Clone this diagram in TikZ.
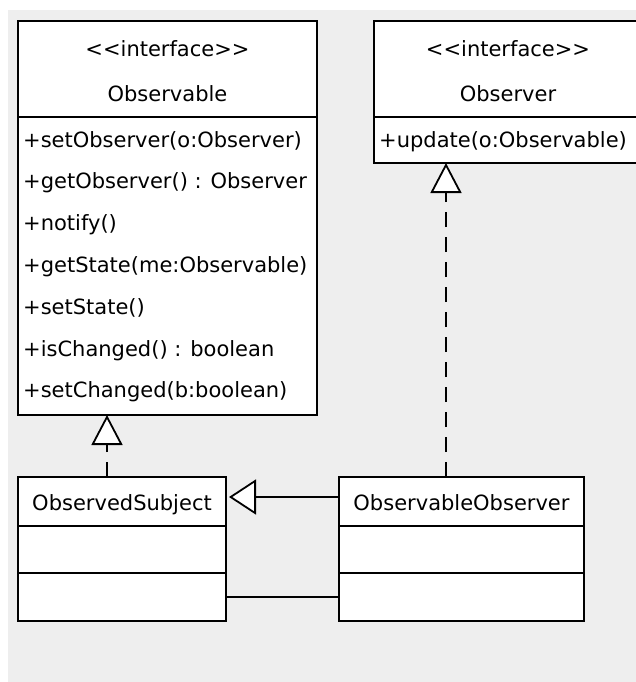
\documentclass[tikz,border=0pt]{standalone}
\usepackage{fontspec}
\setmainfont{DejaVu Sans}
\usetikzlibrary{arrows.meta}
\definecolor{canvas}{RGB}{238,238,238}

\begin{document}
\begin{tikzpicture}[x=1pt, y=-1pt]
\tikzstyle{compartment}=[draw, line width=1.8pt, fill=white, rectangle, anchor=north west, inner sep=0pt, outer sep=0pt]
\tikzstyle{classtext}=[font=\fontsize{21}{25}\selectfont, inner sep=0pt, anchor=base]
\tikzstyle{member}=[classtext, anchor=base west]
\tikzstyle{realize}=[draw, line width=1.8pt, dash pattern=on 15pt off 10pt, -{Triangle[length=30pt, width=31pt, fill=white]}]
\tikzstyle{inherit}=[draw, line width=1.8pt, shorten >=3pt, -{Triangle[length=27pt, width=35pt, fill=white]}]
\tikzstyle{assoc}=[draw, line width=1.8pt]

% Background
\useasboundingbox (0,0) rectangle (636,682);
\clip (0,0) rectangle (636,682);
\fill[canvas] (8,10) rectangle (636,682);

% Define interfaces
\node[compartment, minimum width=299pt, minimum height=96pt] (observable) at (18,21) {};
\node[compartment, minimum width=299pt, minimum height=298pt] (observableops) at (observable.south west) {};
\node[classtext] (observablestereo) at ([yshift=-36pt]observable.north) {<{}<interface>{}>};
\node[classtext] (observablename) at ([yshift=-81pt]observable.north) {Observable};
\foreach \m [count=\i from 0] in {+setObserver(o:Observer), +getObserver() : Observer, +notify(), +getState(me:Observable), +setState(), +isChanged() : boolean, +setChanged(b:boolean)}
  \node[member] (op\i) at ([xshift=5pt, yshift={-30pt-41.8pt*\i}]observableops.north west) {\m};

\node[compartment, minimum width=268pt, minimum height=96pt] (observer) at (374,21) {};
\node[compartment, minimum width=268pt, minimum height=46pt] (observerops) at (observer.south west) {};
\node[classtext] (observerstereo) at ([yshift=-36pt]observer.north) {<{}<interface>{}>};
\node[classtext] (observername) at ([yshift=-81pt]observer.north) {Observer};
\node[member] (update) at ([xshift=5pt, yshift=-30pt]observerops.north west) {+update(o:Observable)};

% Define classes
\node[compartment, minimum width=208pt, minimum height=49pt] (subject) at (18,477) {};
\node[compartment, minimum width=208pt, minimum height=47pt] (subjectattrs) at (subject.south west) {};
\node[compartment, minimum width=208pt, minimum height=48pt] (subjectops) at (subjectattrs.south west) {};
\node[classtext] (subjectname) at ([yshift=-33pt]subject.north) {ObservedSubject};

\node[compartment, minimum width=245pt, minimum height=49pt] (obsobserver) at (339,477) {};
\node[compartment, minimum width=245pt, minimum height=47pt] (obsobserverattrs) at (obsobserver.south west) {};
\node[compartment, minimum width=245pt, minimum height=48pt] (obsobserverops) at (obsobserverattrs.south west) {};
\node[classtext] (obsobservername) at ([yshift=-33pt]obsobserver.north) {ObservableObserver};

% Relations
\coordinate (subjecttop) at ([xshift=-15pt]subject.north);
\coordinate (obsobservertop) at ([xshift=-15.5pt]obsobserver.north);
\draw[realize] (subjecttop) -- (subjecttop |- observableops.south);
\draw[realize] (obsobservertop) -- (obsobservertop |- observerops.south);
\draw[inherit] ([yshift=4.5pt]obsobserver.west) -- ([yshift=4.5pt]subject.east);
\draw[assoc] (subjectops.east) -- (obsobserverops.west);
\end{tikzpicture}
\end{document}
